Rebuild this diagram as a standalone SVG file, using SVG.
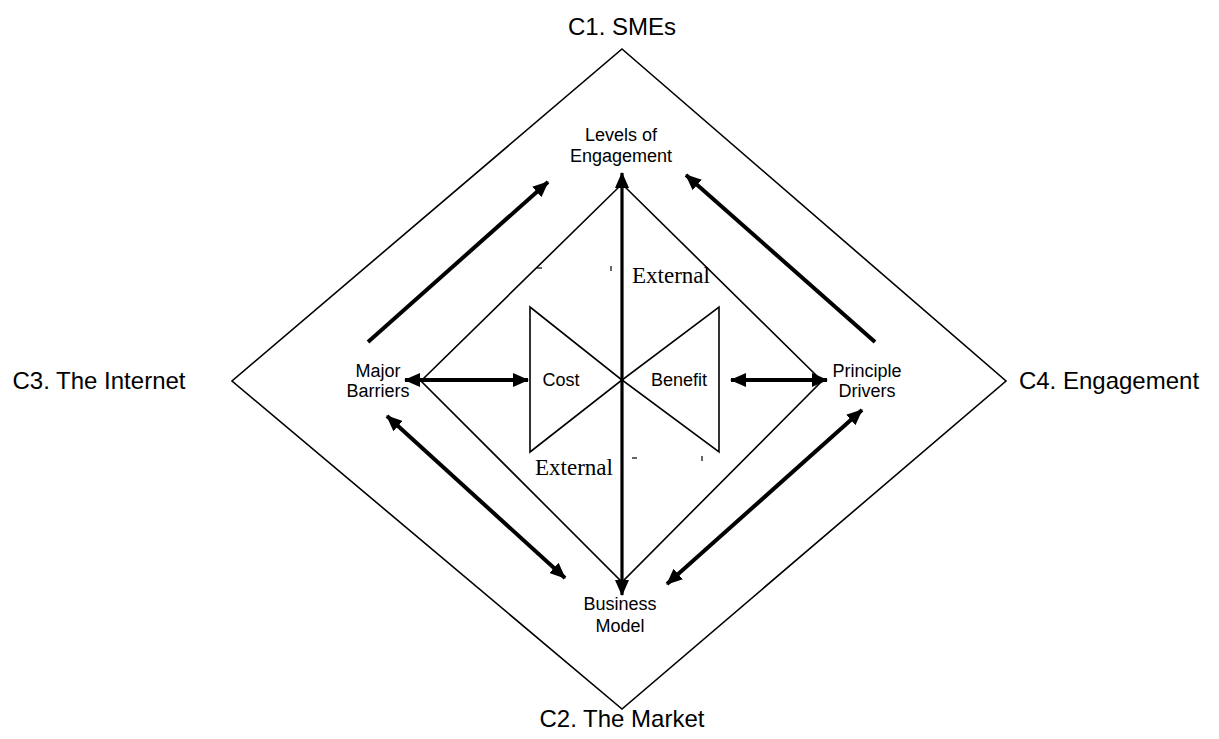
<svg xmlns="http://www.w3.org/2000/svg" width="1219" height="739" viewBox="0 0 1219 739">
  <style>
    .frame { fill: none; stroke: #000; stroke-width: 1.6; stroke-linejoin: miter; }
    .link { fill: none; stroke: #000; stroke-width: 4; }
    .axis { fill: none; stroke: #000; stroke-width: 3.2; }
    .corner { font-family: "Liberation Sans", Arial, sans-serif; font-size: 24px; fill: #000; text-anchor: middle; }
    .label { font-family: "Liberation Sans", Arial, sans-serif; font-size: 18px; fill: #000; text-anchor: middle; }
    .side { font-family: "Liberation Serif", "Times New Roman", serif; font-size: 23px; fill: #000; }
    .tick { stroke: #000; stroke-width: 1.2; }
  </style>
  <defs>
    <marker id="head" viewBox="0 0 16 14" refX="15" refY="7" markerWidth="16" markerHeight="14" markerUnits="userSpaceOnUse" orient="auto-start-reverse">
      <path d="M0,0 L16,7 L0,14 z" fill="#000"/>
    </marker>
  </defs>
  <rect width="1219" height="739" fill="#fff"/>

  <!-- outer frame: the four context areas -->
  <g id="outer-frame">
    <polygon class="frame" points="622,49 1006,381 622,709 232,381"/>
  </g>

  <!-- inner frame -->
  <g id="inner-frame">
    <polygon class="frame" points="622,184 822,381 622,582 421,381"/>
  </g>

  <!-- cost / benefit bow-tie -->
  <g id="cost">
    <polygon class="frame" points="530,307 530,452 622,380"/>
    <text class="label" x="561" y="386">Cost</text>
  </g>
  <g id="benefit">
    <polygon class="frame" points="719,307 719,452 622,380"/>
    <text class="label" x="679" y="386">Benefit</text>
  </g>

  <!-- corner labels -->
  <g id="c1"><text class="corner" x="622" y="35">C1. SMEs</text></g>
  <g id="c2"><text class="corner" x="622" y="727">C2. The Market</text></g>
  <g id="c3"><text class="corner" x="99" y="389">C3. The Internet</text></g>
  <g id="c4"><text class="corner" x="1109" y="389">C4. Engagement</text></g>

  <!-- main nodes -->
  <g id="levels">
    <text class="label" x="621" y="141">Levels of</text>
    <text class="label" x="621" y="162">Engagement</text>
  </g>
  <g id="barriers">
    <text class="label" x="378" y="377">Major</text>
    <text class="label" x="378" y="397">Barriers</text>
  </g>
  <g id="drivers">
    <text class="label" x="867" y="377">Principle</text>
    <text class="label" x="867" y="397">Drivers</text>
  </g>
  <g id="model">
    <text class="label" x="620" y="610">Business</text>
    <text class="label" x="620" y="632">Model</text>
  </g>

  <!-- internal / external sides -->
  <g id="external-top"><text class="side" x="632" y="283">External</text></g>
  <g id="external-bottom"><text class="side" x="535" y="475">External</text></g>
  <g id="fragments">
    <line class="tick" x1="537" y1="268" x2="542" y2="268"/>
    <line class="tick" x1="611" y1="266" x2="611" y2="271"/>
    <line class="tick" x1="632" y1="458" x2="637" y2="458"/>
    <line class="tick" x1="702" y1="456" x2="702" y2="461"/>
  </g>

  <!-- connectors -->
  <g id="connectors">
    <line class="link" x1="368" y1="342" x2="548" y2="182" marker-end="url(#head)"/>
    <line class="link" x1="875" y1="342" x2="686" y2="175" marker-end="url(#head)"/>
    <line class="link" x1="387" y1="416" x2="565" y2="578" marker-start="url(#head)" marker-end="url(#head)"/>
    <line class="link" x1="862" y1="410" x2="667" y2="584" marker-start="url(#head)" marker-end="url(#head)"/>
    <line class="link" x1="405" y1="380" x2="528" y2="380" marker-start="url(#head)" marker-end="url(#head)"/>
    <line class="link" x1="731" y1="380" x2="827" y2="380" marker-start="url(#head)" marker-end="url(#head)"/>
    <line class="axis" x1="622" y1="173" x2="622" y2="595" marker-start="url(#head)" marker-end="url(#head)"/>
  </g>
</svg>
